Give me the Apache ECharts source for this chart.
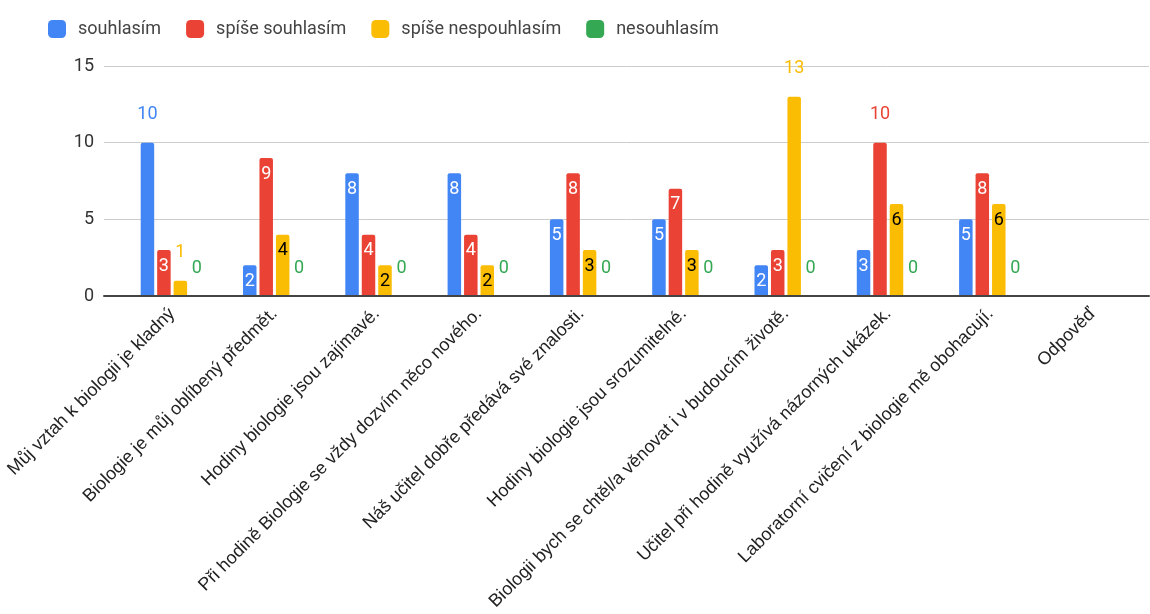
<!DOCTYPE html>
<html>
<head>
<meta charset="utf-8">
<script src="https://cdn.jsdelivr.net/npm/echarts@6/dist/echarts.min.js"></script>
<style>
html,body{margin:0;padding:0;background:#fff;}
#chart{width:1150px;height:614px;}
</style>
</head>
<body>
<div id="chart"></div>
<script>
const categories = [
  "Můj vztah k biologii je kladný",
  "Biologie je můj oblíbený předmět.",
  "Hodiny biologie jsou zajímavé.",
  "Při hodině Biologie se vždy dozvím něco nového.",
  "Náš učitel dobře předává své znalosti.",
  "Hodiny biologie jsou srozumitelné.",
  "Biologii bych se chtěl/a věnovat i v budoucím životě.",
  "Učitel při hodině využívá názorných ukázek.",
  "Laboratorní cvičení z biologie mě obohacují.",
  "Odpověď"
];
const seriesNames = ["souhlasím", "spíše souhlasím", "spíše nespouhlasím", "nesouhlasím"];
const souhlasim        = [10, 2, 8, 8, 5, 5, 2, 3, 5, null];
const spiseSouhlasim   = [3, 9, 4, 4, 8, 7, 3, 10, 8, null];
const spiseNesouhlasim = [1, 4, 2, 2, 3, 3, 13, 6, 6, null];
const nesouhlasim      = [0, 0, 0, 0, 0, 0, 0, 0, 0, null];
const yTicks = [0, 5, 10, 15];

const colors = ["#4285f4", "#ea4335", "#fbbc04", "#34a853"];
const insideColors = ["#ffffff", "#ffffff", "#000000", "#ffffff"];
const FONT = "Roboto, 'Noto Sans', Arial, sans-serif";
const AXFONT = "'Liberation Sans', Arial, sans-serif";

function buildData(values, idx) {
  return values.map(v => {
    if (v === null) return {value: null};
    const outside = (v >= 10 || v < 2);
    return {
      value: v,
      label: outside ? {
        show: true, position: 'top', distance: 19,
        color: colors[idx], fontSize: 18, fontFamily: FONT
      } : {
        show: true, position: 'insideTop', distance: 7,
        color: insideColors[idx], fontSize: 18, fontFamily: FONT
      }
    };
  });
}

const allValues = [souhlasim, spiseSouhlasim, spiseNesouhlasim, nesouhlasim];

const chart = echarts.init(document.getElementById('chart'), null, {renderer: 'canvas'});
const option = {
  animation: false,
  backgroundColor: '#fff',
  color: colors,
  legend: {
    left: 43, top: 15,
    icon: 'roundRect',
    itemWidth: 18, itemHeight: 18,
    itemGap: 25,
    data: seriesNames,
    textStyle: {fontFamily: FONT, fontSize: 18, color: '#444', padding: [0, 0, 0, 7]}
  },
  grid: [
    {left: 104, right: 1, top: 66, bottom: 318, containLabel: false},
    {left: 121, right: 6, top: 66, bottom: 318, containLabel: false}
  ],
  xAxis: [
    {
      type: 'category', gridIndex: 0, data: categories,
      axisLine: {show: true, lineStyle: {color: '#444', width: 2}},
      axisTick: {show: false}, axisLabel: {show: false}, splitLine: {show: false}, z: 5
    },
    {
      type: 'category', gridIndex: 1, data: categories,
      axisLine: {show: false}, axisTick: {show: false},
      axisLabel: {
        show: true, rotate: 45, interval: 0, margin: 15,
        padding: [22, 0, 0, 0],
        fontFamily: AXFONT, fontSize: 18, color: '#222'
      }
    }
  ],
  yAxis: [
    {
      type: 'value', gridIndex: 0, min: yTicks[0], max: yTicks[yTicks.length - 1], interval: 5,
      axisLine: {show: false}, axisTick: {show: false},
      axisLabel: {fontFamily: FONT, fontSize: 18, color: '#333', margin: 10},
      splitLine: {lineStyle: {color: '#cccccc', width: 1}}
    },
    {
      type: 'value', gridIndex: 1, min: yTicks[0], max: yTicks[yTicks.length - 1], interval: 5,
      show: false, splitLine: {show: false}
    }
  ],
  series: seriesNames.map((name, i) => ({
    name: name,
    type: 'bar',
    xAxisIndex: 1, yAxisIndex: 1,
    barWidth: 13.5,
    barGap: '22%',
    itemStyle: {color: colors[i], borderRadius: [2, 2, 0, 0]},
    data: buildData(allValues[i], i)
  }))
};
chart.setOption(option);
</script>
</body>
</html>
